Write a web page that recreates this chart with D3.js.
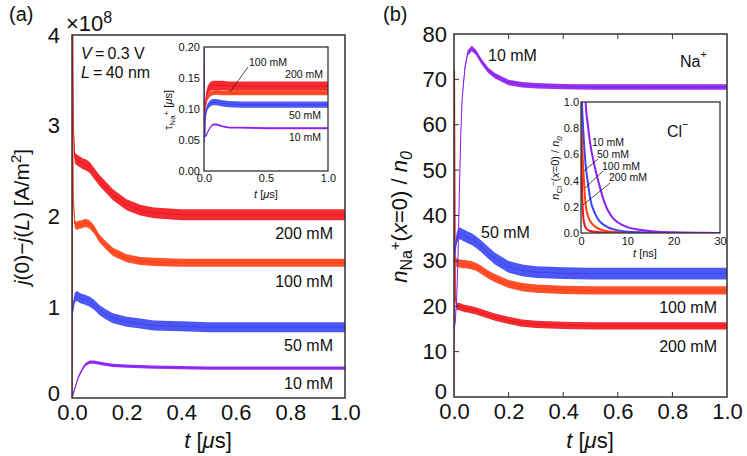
<!DOCTYPE html>
<html><head><meta charset="utf-8">
<script src="https://cdn.jsdelivr.net/npm/d3@7"></script>
<style>
body{margin:0;background:#fff;}
svg{font-family:"Liberation Sans",Arial,Helvetica,sans-serif;}
</style></head>
<body><svg id="c" width="747" height="456"></svg>
<script>
// ---------------- DATA ----------------
const concentrations = ["10 mM","50 mM","100 mM","200 mM"];
const tMain = [0,0.002,0.005,0.01,0.015,0.02,0.025,0.03,0.04,0.05,0.065,0.08,0.1,0.125,0.15,0.2,0.25,0.3,0.4,0.5,0.6,0.7,0.8,0.9,1.0];
// panel (a): j(0)-j(L) in 1e8 A/m^2
const jA_10  = [0,0.02,0.05,0.1,0.15,0.2,0.24,0.27,0.33,0.37,0.395,0.395,0.385,0.37,0.36,0.35,0.345,0.34,0.335,0.33,0.33,0.33,0.33,0.33,0.33];
const jA_50  = [0.9,0.95,1.02,1.1,1.12,1.12,1.11,1.1,1.09,1.08,1.06,1.03,0.97,0.92,0.88,0.84,0.82,0.8,0.79,0.78,0.78,0.78,0.78,0.78,0.78];
const jA_100 = [0,3.5,2.2,1.92,1.9,1.9,1.91,1.91,1.92,1.93,1.91,1.86,1.76,1.68,1.61,1.54,1.51,1.5,1.49,1.49,1.49,1.49,1.49,1.49,1.49];
const jA_200 = [0,4.5,3.0,2.65,2.63,2.62,2.61,2.6,2.58,2.57,2.54,2.48,2.4,2.32,2.24,2.13,2.07,2.04,2.02,2.02,2.02,2.02,2.02,2.02,2.02];
const jA_noise = [0.018,0.055,0.045,0.06];
// panel (b): n_Na+(x=0)/n0
const nB_10  = [15,15.5,17,22,32,46,58,66,72.5,75.8,76.8,76,74,72,70.8,69.3,68.8,68.6,68.4,68.3,68.3,68.3,68.3,68.3,68.3];
const nB_50  = [30,31,33,35,35.8,36,36,35.8,35.5,35.2,34.8,34.2,33.2,31.8,30.5,28.7,27.9,27.5,27.3,27.2,27.2,27.2,27.2,27.2,27.2];
const nB_100 = [31,30.5,30,29.6,29.5,29.4,29.4,29.3,29.3,29.2,29,28.7,28,27,26.2,24.9,24.2,23.9,23.6,23.5,23.5,23.5,23.5,23.5,23.5];
const nB_200 = [0,72,22,20,19.9,19.9,19.8,19.7,19.5,19.4,19.2,19,18.6,18.1,17.6,16.9,16.3,16,15.8,15.7,15.7,15.7,15.7,15.7,15.7];
const nB_noise = [0.6,1.3,0.9,0.8];
// inset (a): tau_Na+ [us]
const tInsA = [0,0.005,0.01,0.02,0.03,0.05,0.07,0.1,0.15,0.2,0.3,0.5,0.7,1.0];
const tau_10  = [0.25,0.1,0.055,0.058,0.063,0.07,0.075,0.075,0.072,0.07,0.07,0.069,0.069,0.069];
const tau_50  = [0.045,0.068,0.085,0.098,0.104,0.109,0.111,0.111,0.109,0.108,0.107,0.107,0.107,0.107];
const tau_100 = [0.05,0.08,0.098,0.112,0.119,0.124,0.126,0.127,0.126,0.126,0.126,0.126,0.126,0.126];
const tau_200 = [0.05,0.085,0.105,0.122,0.13,0.136,0.138,0.138,0.138,0.137,0.137,0.137,0.137,0.137];
const tau_noise = [0.0015,0.005,0.004,0.0075];
// inset (b): n_Cl-(x=0)/n0 vs t [ns]
const tCl_10  = [0.8,1,1.5,2,3,4,5,6,7,8,10,12,15,20,25,30];
const cl_10   = [1.2,1.0,0.82,0.68,0.5,0.36,0.24,0.16,0.11,0.08,0.045,0.028,0.014,0.004,0.001,0];
const tCl_50  = [0,0.2,0.5,1,1.5,2,3,4,5,6,8,10,15,20,30];
const cl_50   = [1.3,1.0,0.78,0.52,0.38,0.26,0.15,0.09,0.06,0.04,0.02,0.01,0.003,0.001,0];
const tCl_100 = [0,0.1,0.3,0.6,1,1.5,2,3,4,6,10,20,30];
const cl_100  = [1.2,1.0,0.65,0.42,0.22,0.13,0.09,0.05,0.03,0.012,0.003,0.001,0];
const tCl_200 = [0,0.1,0.2,0.3,0.5,0.8,1.2,2,4,10,30];
const cl_200  = [1.0,0.7,0.4,0.25,0.12,0.06,0.03,0.015,0.005,0.001,0];
// ticks
const xTicksMain = [0,0.2,0.4,0.6,0.8,1.0];
const xTickLabelsMain = ["0.0","0.2","0.4","0.6","0.8","1.0"];
const yTicksA = [0,1,2,3,4];
const yTickLabelsA = ["0","1","2","3","4"];
const yTicksB = [0,10,20,30,40,50,60,70,80];
const yTickLabelsB = ["0","10","20","30","40","50","60","70","80"];
const xTicksInsA = [0,0.5,1.0], xTickLabelsInsA = ["0.0","0.5","1.0"];
const yTicksInsA = [0,0.05,0.1,0.15,0.2], yTickLabelsInsA = ["0.00","0.05","0.10","0.15","0.20"];
const xTicksInsB = [0,10,20,30], xTickLabelsInsB = ["0","10","20","30"];
const yTicksInsB = [0,0.2,0.4,0.6,0.8,1.0], yTickLabelsInsB = ["0.0","0.2","0.4","0.6","0.8","1.0"];
const colors = ["#8b1ef0","#3a45f5","#ff3d12","#f2141c"];

// ---------------- DRAW ----------------
const svg = d3.select("#c");
const defs = svg.append("defs");
const FRAME = "#333";

function clip(id,x0,x1,y0,y1){
  defs.append("clipPath").attr("id",id).append("rect")
    .attr("x",x0).attr("y",y1).attr("width",x1-x0).attr("height",y0-y1);
  return "url(#"+id+")";
}
function band(g,x,y,ts,vs,amp,color,cp){
  const pts = ts.map((t,i)=>[t,vs[i]]);
  g.append("path").datum(pts).attr("clip-path",cp)
    .attr("fill",color).attr("fill-opacity",0.9)
    .attr("d",d3.area().x(d=>x(d[0])).y0(d=>y(d[1]-amp)).y1(d=>y(d[1]+amp)));
  g.append("path").datum(pts).attr("clip-path",cp)
    .attr("fill","none").attr("stroke",color).attr("stroke-width",1)
    .attr("d",d3.line().x(d=>x(d[0])).y(d=>y(d[1])));
}
function line(g,x,y,ts,vs,color,w,cp){
  const pts = ts.map((t,i)=>[t,vs[i]]);
  g.append("path").datum(pts).attr("clip-path",cp)
    .attr("fill","none").attr("stroke",color).attr("stroke-width",w)
    .attr("d",d3.line().curve(d3.curveMonotoneX).x(d=>x(d[0])).y(d=>y(d[1])));
}
function axisLabels(g,axis,tr,fs){
  const a = g.append("g").attr("transform",tr).call(axis);
  a.select(".domain").remove();
  a.selectAll("text").attr("font-size",fs).attr("fill","#111")
    .attr("font-family","'Liberation Sans',Arial,sans-serif");
  a.selectAll("line").attr("stroke",FRAME);
  return a;
}
function text(x,y,s,fs,anchor){
  return svg.append("text").attr("x",x).attr("y",y).attr("font-size",fs)
    .attr("text-anchor",anchor||"start").attr("dominant-baseline","central").attr("fill","#111").text(s);
}

// ===== Panel (a) =====
const xA = d3.scaleLinear([0,1],[72,345]);
const yA = d3.scaleLinear([0,4],[398,35]);
const cpA = clip("cpA",72,345,398,35);
const gA = svg.append("g");
const jA = [jA_10,jA_50,jA_100,jA_200];
[3,2,1,0].forEach(i=>band(gA,xA,yA,tMain,jA[i],jA_noise[i],colors[i],cpA));
gA.append("rect").attr("x",72).attr("y",35).attr("width",273).attr("height",363)
  .attr("fill","none").attr("stroke",FRAME).attr("stroke-width",1.5);
axisLabels(gA,d3.axisBottom(xA).tickValues(xTicksMain).tickFormat((d,i)=>xTickLabelsMain[i]).tickSize(0).tickPadding(6),"translate(0,398)",22);
const ayA = axisLabels(gA,d3.axisLeft(yA).tickValues(yTicksA).tickFormat((d,i)=>yTickLabelsA[i]).tickSize(0).tickPadding(12),"translate(72,0)",22);
ayA.selectAll("text").filter(d=>d===0).attr("y",-5);

// ×10^8
const t8 = svg.append("text").attr("x",66).attr("y",31).attr("font-size",22).attr("fill","#111");
t8.append("tspan").text("×10");
t8.append("tspan").attr("dy",-8).attr("font-size",16).text("8");
text(9,14,"(a)",20);
// V, L
const tv = svg.append("text").attr("x",81).attr("y",53).attr("font-size",16).attr("dominant-baseline","central").attr("fill","#111");
tv.append("tspan").attr("font-style","italic").text("V");
tv.append("tspan").text("\u2009=\u20090.3 V");
const tl = svg.append("text").attr("x",81).attr("y",72).attr("font-size",16).attr("dominant-baseline","central").attr("fill","#111");
tl.append("tspan").attr("font-style","italic").text("L");
tl.append("tspan").text("\u2009=\u200940 nm");
// series labels (a)
text(333,233,"200 mM",16,"end");
text(333,281,"100 mM",16,"end");
text(333,345,"50 mM",16,"end");
text(333,383,"10 mM",16,"end");
// axis titles (a)
const xtA = svg.append("text").attr("x",208).attr("y",440).attr("font-size",22).attr("text-anchor","middle").attr("dominant-baseline","central").attr("fill","#111");
xtA.append("tspan").attr("font-style","italic").text("t");
xtA.append("tspan").text(" [");
xtA.append("tspan").attr("font-style","italic").text("\u03bc");
xtA.append("tspan").text("s]");
const ytA = svg.append("text").attr("transform","translate(29,217) rotate(-90)").attr("font-size",21).attr("text-anchor","middle").attr("fill","#111");
ytA.append("tspan").attr("font-style","italic").text("j");
ytA.append("tspan").text("(0)\u2212");
ytA.append("tspan").attr("font-style","italic").text("j");
ytA.append("tspan").text("(");
ytA.append("tspan").attr("font-style","italic").text("L");
ytA.append("tspan").text(") [A/m");
ytA.append("tspan").attr("dy",-8).attr("font-size",15).text("2");
ytA.append("tspan").attr("dy",8).text("]");

// ===== Inset (a) =====
const xIA = d3.scaleLinear([0,1],[204,328]);
const yIA = d3.scaleLinear([0,0.2],[171,47]);
const cpIA = clip("cpIA",204,328,171,47);
const gIA = svg.append("g");
gIA.append("rect").attr("x",204).attr("y",47).attr("width",124).attr("height",124).attr("fill","#fff");
const tau = [tau_10,tau_50,tau_100,tau_200];
[3,2,1,0].forEach(i=>band(gIA,xIA,yIA,tInsA,tau[i],tau_noise[i],colors[i],cpIA));
gIA.append("rect").attr("x",204).attr("y",47).attr("width",124).attr("height",124)
  .attr("fill","none").attr("stroke",FRAME).attr("stroke-width",1.3);
axisLabels(gIA,d3.axisBottom(xIA).tickValues(xTicksInsA).tickFormat((d,i)=>xTickLabelsInsA[i]).tickSize(0).tickPadding(3),"translate(0,171)",11);
axisLabels(gIA,d3.axisLeft(yIA).tickValues(yTicksInsA).tickFormat((d,i)=>yTickLabelsInsA[i]).tickSize(0).tickPadding(4),"translate(204,0)",11);
const xtIA = svg.append("text").attr("x",266).attr("y",194).attr("font-size",11).attr("text-anchor","middle").attr("dominant-baseline","central").attr("fill","#111");
xtIA.append("tspan").attr("font-style","italic").text("t");
xtIA.append("tspan").text(" [");
xtIA.append("tspan").attr("font-style","italic").text("\u03bc");
xtIA.append("tspan").text("s]");
const ytIA = svg.append("text").attr("transform","translate(172,110) rotate(-90)").attr("font-size",11).attr("text-anchor","middle").attr("fill","#111");
ytIA.append("tspan").text("\u03c4");
ytIA.append("tspan").attr("dy",3).attr("font-size",8).text("Na");
ytIA.append("tspan").attr("dy",-6).attr("font-size",8).text("+");
ytIA.append("tspan").attr("dy",3).text(" [");
ytIA.append("tspan").attr("font-style","italic").text("\u03bc");
ytIA.append("tspan").text("s]");
text(268,62,"100 mM",10.5,"middle");
svg.append("line").attr("x1",248).attr("y1",67).attr("x2",230).attr("y2",92).attr("stroke","#222").attr("stroke-width",0.8);
text(323,74,"200 mM",10.5,"end");
text(321,115,"50 mM",10.5,"end");
text(321,137,"10 mM",10.5,"end");

// ===== Panel (b) =====
const xB = d3.scaleLinear([0,1],[454,727]);
const yB = d3.scaleLinear([0,80],[397,34]);
const cpB = clip("cpB",454,727,397,34);
const gB = svg.append("g");
const nB = [nB_10,nB_50,nB_100,nB_200];
[3,2,1,0].forEach(i=>band(gB,xB,yB,tMain,nB[i],nB_noise[i],colors[i],cpB));
gB.append("rect").attr("x",454).attr("y",34).attr("width",273).attr("height",363)
  .attr("fill","none").attr("stroke",FRAME).attr("stroke-width",1.5);
// inward ticks
const innerX = xTicksMain.slice(1,-1), innerY = yTicksB.slice(1,-1);
gB.selectAll(".tb").data(innerX).join("line").attr("x1",d=>xB(d)).attr("x2",d=>xB(d)).attr("y1",397).attr("y2",392).attr("stroke",FRAME).attr("stroke-width",1);
gB.selectAll(".tt").data(innerX).join("line").attr("x1",d=>xB(d)).attr("x2",d=>xB(d)).attr("y1",34).attr("y2",39).attr("stroke",FRAME).attr("stroke-width",1);
gB.selectAll(".tl").data(innerY).join("line").attr("x1",454).attr("x2",459).attr("y1",d=>yB(d)).attr("y2",d=>yB(d)).attr("stroke",FRAME).attr("stroke-width",1);
axisLabels(gB,d3.axisBottom(xB).tickValues(xTicksMain).tickFormat((d,i)=>xTickLabelsMain[i]).tickSize(0).tickPadding(6),"translate(0,397)",22);
const ayB = axisLabels(gB,d3.axisLeft(yB).tickValues(yTicksB).tickFormat((d,i)=>yTickLabelsB[i]).tickSize(0).tickPadding(7),"translate(454,0)",22);
ayB.selectAll("text").filter(d=>d===0).attr("y",-6);
text(383,14,"(b)",20);
const xtB = svg.append("text").attr("x",590).attr("y",440).attr("font-size",22).attr("text-anchor","middle").attr("dominant-baseline","central").attr("fill","#111");
xtB.append("tspan").attr("font-style","italic").text("t");
xtB.append("tspan").text(" [");
xtB.append("tspan").attr("font-style","italic").text("\u03bc");
xtB.append("tspan").text("s]");
const ytB = svg.append("text").attr("transform","translate(407,217) rotate(-90)").attr("font-size",22).attr("text-anchor","middle").attr("fill","#111");
ytB.append("tspan").attr("font-style","italic").text("n");
ytB.append("tspan").attr("dy",5).attr("font-size",16).text("Na");
ytB.append("tspan").attr("dy",-12).attr("font-size",15).text("+");
ytB.append("tspan").attr("dy",7).text("(");
ytB.append("tspan").attr("font-style","italic").text("x");
ytB.append("tspan").text("=0) / ");
ytB.append("tspan").attr("font-style","italic").text("n");
ytB.append("tspan").attr("dy",5).attr("font-size",16).attr("font-style","italic").text("0");
text(488,55,"10 mM",16);
text(481,232,"50 mM",16);
text(717,307,"100 mM",16,"end");
text(717,346,"200 mM",16,"end");
const na = svg.append("text").attr("x",680).attr("y",61).attr("font-size",16).attr("dominant-baseline","central").attr("fill","#111");
na.append("tspan").text("Na");
na.append("tspan").attr("dy",-7).attr("font-size",11).text("+");

// ===== Inset (b) =====
const xIB = d3.scaleLinear([0,30],[581,720]);
const yIB = d3.scaleLinear([0,1],[233,102]);
const cpIB = clip("cpIB",581,720,233,102);
const gIB = svg.append("g");
gIB.append("rect").attr("x",581).attr("y",102).attr("width",139).attr("height",131).attr("fill","#fff");
const clT = [tCl_10,tCl_50,tCl_100,tCl_200], clV = [cl_10,cl_50,cl_100,cl_200];
[3,2,1,0].forEach(i=>line(gIB,xIB,yIB,clT[i],clV[i],colors[i],2,cpIB));
gIB.append("rect").attr("x",581).attr("y",102).attr("width",139).attr("height",131)
  .attr("fill","none").attr("stroke",FRAME).attr("stroke-width",1.3);
axisLabels(gIB,d3.axisBottom(xIB).tickValues(xTicksInsB).tickFormat((d,i)=>xTickLabelsInsB[i]).tickSize(0).tickPadding(4),"translate(0,233)",11);
axisLabels(gIB,d3.axisLeft(yIB).tickValues(yTicksInsB).tickFormat((d,i)=>yTickLabelsInsB[i]).tickSize(0).tickPadding(2),"translate(581,0)",11);
const xtIB = svg.append("text").attr("x",645).attr("y",253).attr("font-size",11).attr("text-anchor","middle").attr("dominant-baseline","central").attr("fill","#111");
xtIB.append("tspan").attr("font-style","italic").text("t");
xtIB.append("tspan").text(" [ns]");
const ytIB = svg.append("text").attr("transform","translate(559,168) rotate(-90)").attr("font-size",11).attr("text-anchor","middle").attr("fill","#111");
ytIB.append("tspan").attr("font-style","italic").text("n");
ytIB.append("tspan").attr("dy",3).attr("font-size",8).text("Cl");
ytIB.append("tspan").attr("dy",-6).attr("font-size",8).text("\u2212");
ytIB.append("tspan").attr("dy",3).text("(");
ytIB.append("tspan").attr("font-style","italic").text("x");
ytIB.append("tspan").text("=0) / ");
ytIB.append("tspan").attr("font-style","italic").text("n");
ytIB.append("tspan").attr("dy",3).attr("font-size",8).attr("font-style","italic").text("0");
const cl = svg.append("text").attr("x",667).attr("y",131).attr("font-size",16).attr("dominant-baseline","central").attr("fill","#111");
cl.append("tspan").text("Cl");
cl.append("tspan").attr("dy",-7).attr("font-size",11).text("\u2212");
text(592,142,"10 mM",10.5);
text(597,154,"50 mM",10.5);
text(602,166,"100 mM",10.5);
text(609,177,"200 mM",10.5);
[[598,159,584,171],[603,171,585,188],[610,183,583,205]].forEach(l=>
  svg.append("line").attr("x1",l[0]).attr("y1",l[1]).attr("x2",l[2]).attr("y2",l[3]).attr("stroke","#222").attr("stroke-width",0.8));
</script></body></html>
